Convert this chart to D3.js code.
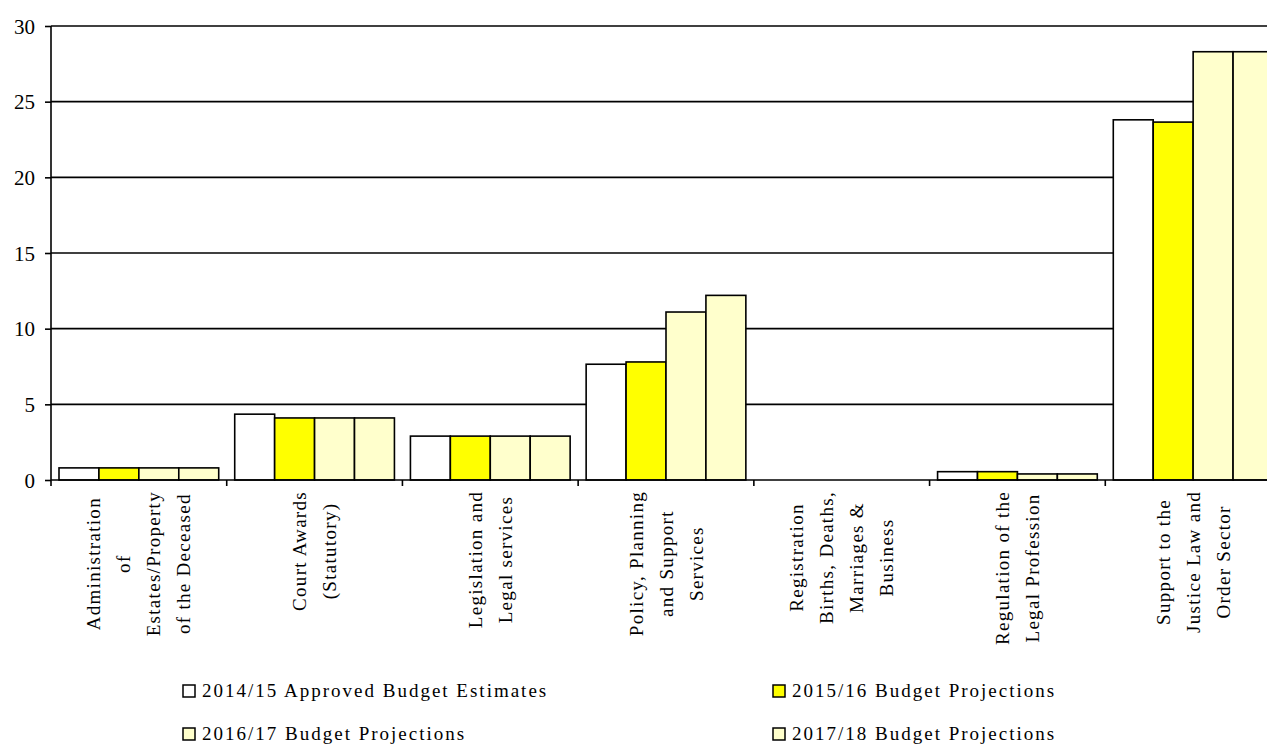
<!DOCTYPE html>
<html>
<head>
<meta charset="utf-8">
<script src="https://cdn.jsdelivr.net/npm/d3@7.9.0/dist/d3.min.js"></script>
<style>
  body { margin: 0; background: #fff; }
  svg text { font-family: 'Liberation Serif', 'Times New Roman', Times, serif; }
</style>
</head>
<body>
<svg id="chart"></svg>
<script>
const categories = [
  'Administration\nof\nEstates/Property\nof the Deceased',
  'Court Awards\n(Statutory)',
  'Legislation and\nLegal services',
  'Policy, Planning\nand Support\nServices',
  'Registration\nBirths, Deaths,\nMarriages &\nBusiness',
  'Regulation of the\nLegal Profession',
  'Support to the\nJustice Law and\nOrder Sector'
];
const seriesNames = [
  '2014/15 Approved Budget Estimates',
  '2015/16 Budget Projections',
  '2016/17 Budget Projections',
  '2017/18 Budget Projections'
];
const seriesColors = ['#ffffff', '#ffff00', '#ffffcc', '#ffffcc'];
const approved1415 = [0.8, 4.35, 2.9, 7.65, 0, 0.55, 23.8];
const proj1516 = [0.8, 4.1, 2.9, 7.8, 0, 0.55, 23.65];
const proj1617 = [0.8, 4.1, 2.9, 11.1, 0, 0.4, 28.3];
const proj1718 = [0.8, 4.1, 2.9, 12.2, 0, 0.4, 28.3];
const yTicks = [0, 5, 10, 15, 20, 25, 30];

const series = [approved1415, proj1516, proj1617, proj1718];

const width = 1267;
const height = 744;
const plot = { left: 51, top: 26, bottom: 480, right: 1281 };
const serif = "'Liberation Serif', 'Times New Roman', Times, serif";

const svg = d3.select('#chart')
    .attr('width', width)
    .attr('height', height);

const x0 = d3.scaleBand()
    .domain(categories)
    .range([plot.left, plot.right])
    .paddingInner(0)
    .paddingOuter(0);

const x1 = d3.scaleBand()
    .domain(d3.range(series.length))
    .range([8, x0.bandwidth() - 8])
    .padding(0);

const y = d3.scaleLinear()
    .domain([0, 30])
    .range([plot.bottom, plot.top]);

// gridlines behind the bars
svg.append('g')
    .selectAll('line')
    .data(yTicks.filter(d => d > 0))
    .join('line')
    .attr('x1', plot.left)
    .attr('x2', plot.right)
    .attr('y1', d => y(d))
    .attr('y2', d => y(d))
    .attr('stroke', '#000')
    .attr('stroke-width', 1.6);

// bars
const groups = svg.append('g')
    .selectAll('g')
    .data(categories)
    .join('g')
    .attr('transform', d => `translate(${x0(d)},0)`);

groups.selectAll('rect')
    .data((d, i) => series.map((s, k) => ({ k: k, v: s[i] })))
    .join('rect')
    .attr('x', d => x1(d.k))
    .attr('y', d => y(d.v))
    .attr('width', x1.bandwidth())
    .attr('height', d => y(0) - y(d.v))
    .attr('fill', d => seriesColors[d.k])
    .attr('stroke', '#000')
    .attr('stroke-width', 1.6);

// y axis
const yAxis = svg.append('g')
    .attr('transform', `translate(${plot.left},0)`)
    .call(d3.axisLeft(y).tickValues(yTicks).tickSize(6).tickFormat(d3.format('d')))
    .attr('font-family', serif);
yAxis.select('.domain').remove();
yAxis.selectAll('line').attr('stroke', '#000').attr('stroke-width', 1.6);
yAxis.selectAll('text')
    .attr('x', -16)
    .attr('dy', '0.34em')
    .style('font-size', '21px')
    .style('font-family', serif)
    .attr('fill', '#000');
svg.append('line')
    .attr('x1', plot.left).attr('x2', plot.left)
    .attr('y1', y(30)).attr('y2', plot.bottom + 6)
    .attr('stroke', '#000').attr('stroke-width', 1.6);

// x axis line and tick marks at category boundaries
svg.append('line')
    .attr('x1', plot.left).attr('x2', plot.right)
    .attr('y1', plot.bottom).attr('y2', plot.bottom)
    .attr('stroke', '#000').attr('stroke-width', 1.6);
svg.append('g')
    .selectAll('line')
    .data(categories.slice(1))
    .join('line')
    .attr('x1', d => x0(d)).attr('x2', d => x0(d))
    .attr('y1', plot.bottom).attr('y2', plot.bottom + 6)
    .attr('stroke', '#000').attr('stroke-width', 1.6);

// rotated multi-line category labels
const lineGap = 30;
const labelTop = 491;
categories.forEach(cat => {
    const lines = cat.split('\n');
    const cx = x0(cat) + x0.bandwidth() / 2;
    const g = svg.append('g');
    const texts = g.selectAll('text')
        .data(lines)
        .join('text')
        .text(d => d)
        .attr('text-anchor', 'middle')
        .attr('dominant-baseline', 'central')
        .style('font-family', serif)
        .style('font-size', '19px')
        .style('letter-spacing', '1.3px')
        .attr('fill', '#000');
    const maxLen = d3.max(texts.nodes(), n => n.getComputedTextLength());
    const cy = labelTop + maxLen / 2;
    texts.attr('transform', (d, i) => {
        const lx = cx + (i - (lines.length - 1) / 2) * lineGap;
        return `translate(${lx},${cy}) rotate(-90)`;
    });
});

// legend
const legendCols = [183, 773];
const legendRows = [685, 728];
const legend = svg.append('g')
    .selectAll('g')
    .data(seriesNames)
    .join('g')
    .attr('transform', (d, i) => `translate(${legendCols[i % 2]},${legendRows[Math.floor(i / 2)]})`);
legend.append('rect')
    .attr('width', 12)
    .attr('height', 12)
    .attr('fill', (d, i) => seriesColors[i])
    .attr('stroke', '#000')
    .attr('stroke-width', 1.5);
legend.append('text')
    .attr('x', 19)
    .attr('y', 12)
    .text(d => d)
    .style('font-family', serif)
    .style('font-size', '19px')
    .style('letter-spacing', '2px')
    .attr('fill', '#000');
</script>
</body>
</html>
